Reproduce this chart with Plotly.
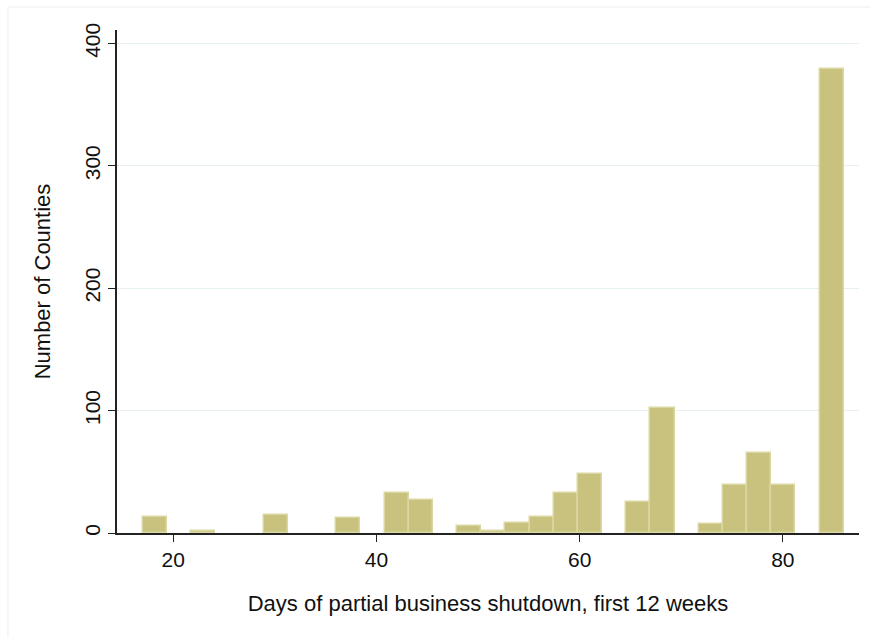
import plotly.graph_objects as go

# Histogram of counties by days of partial business shutdown (29 equal bins, 17 to 86 days)
bin_start = 17.0
bin_end = 86.0
n_bins = 29
counts = [13, 0, 2, 0, 0, 15, 0, 0, 12, 0,
          33, 27, 0, 6, 2, 8, 13, 33, 48, 0,
          25, 102, 0, 7, 39, 65, 39, 0, 379]

y_ticks = [0, 100, 200, 300, 400]
x_ticks = [20, 40, 60, 80]

width = (bin_end - bin_start) / n_bins
centers = [bin_start + (i + 0.5) * width for i in range(n_bins)]
# empty bins are left blank rather than drawn as flat outlines
heights = [c if c > 0 else None for c in counts]

fig = go.Figure()
fig.add_trace(go.Bar(
    x=centers,
    y=heights,
    width=[width] * n_bins,
    marker=dict(color="#c9c27e", line=dict(color="#dbd7a3", width=1.5)),
    hoverinfo="x+y",
))

font_family = "Liberation Sans, Arial, sans-serif"

fig.update_layout(
    width=870,
    height=637,
    margin=dict(l=117, r=11, t=30, b=104),
    paper_bgcolor="white",
    plot_bgcolor="white",
    showlegend=False,
    bargap=0,
    font=dict(family=font_family, color="#111111", size=21),
    xaxis=dict(
        range=[14.46, 87.5],
        tickvals=x_ticks,
        ticks="outside",
        ticklen=7,
        tickwidth=1.3,
        tickcolor="#222222",
        showline=True,
        linecolor="#222222",
        linewidth=1.5,
        showgrid=False,
        zeroline=False,
        tickfont=dict(size=21),
        title=dict(text="Days of partial business shutdown, first 12 weeks",
                   font=dict(size=22), standoff=26),
    ),
    yaxis=dict(
        range=[0, 411],
        tickvals=y_ticks,
        ticks="outside",
        ticklen=7,
        tickwidth=1.3,
        tickcolor="#222222",
        tickangle=-90,
        showline=True,
        linecolor="#222222",
        linewidth=1.5,
        showgrid=True,
        gridcolor="#e6eff1",
        gridwidth=1.2,
        zeroline=False,
        tickfont=dict(size=21),
        title=dict(text="Number of Counties", font=dict(size=22), standoff=24),
    ),
)

# faint outer frame around the graph region
fig.add_shape(type="rect", xref="paper", yref="paper",
              x0=-0.147, x1=1.1, y0=-0.35, y1=1.0457,
              line=dict(color="#eeeeee", width=1), layer="below")

fig.write_html("out.html")
